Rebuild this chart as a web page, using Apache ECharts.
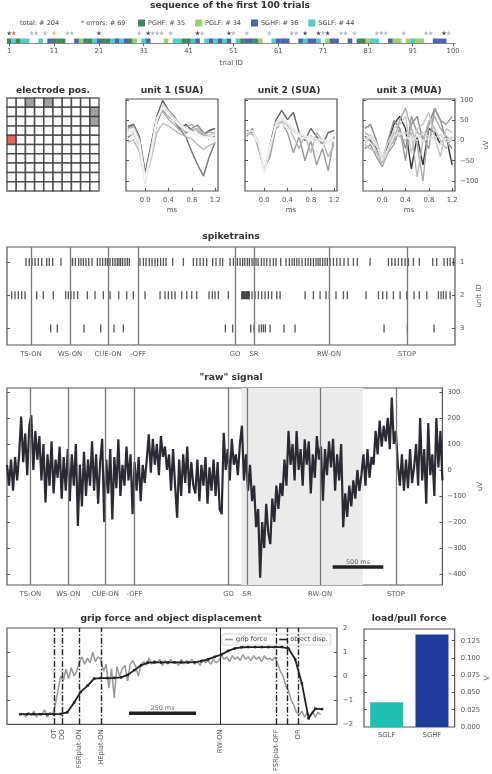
<!DOCTYPE html>
<html>
<head>
<meta charset="utf-8">
<script src="https://cdn.jsdelivr.net/npm/echarts@6.0.0/dist/echarts.min.js"></script>
<style>
html, body { margin: 0; padding: 0; background: #fff; }
#chart { width: 492px; height: 774px; }
</style>
</head>
<body>
<div id="chart"></div>
<script>
const FONT = 'DejaVu Sans'
const TICK = '#555'

// --- trial sequence ---
const trialTicks = [1, 11, 21, 31, 41, 51, 61, 71, 81, 91, 100]
const typeNames = ['PGHF: # 35', 'PGLF: # 34', 'SGHF: # 36', 'SGLF: # 44']
const typeColors = ['#11693a', '#86c447', '#213f99', '#25c0b4']
const trialsPGHF = [1, 3, 11, 12, 13, 18, 19, 22, 23, 28, 40, 41, 53, 56, 79, 80]
const trialsPGLF = [17, 29, 36, 57, 72, 81, 87, 88, 90, 92, 93]
const trialsSGHF = [10, 16, 21, 25, 27, 32, 43, 46, 48, 50, 54, 55, 61, 62, 63, 66, 68, 69, 73, 74, 77, 86, 96, 97, 98]
const trialsSGLF = [2, 4, 5, 8, 20, 24, 26, 31, 38, 39, 42, 45, 47, 49, 52, 60, 67, 70, 82, 83, 91]
const errBlack = [1, 21, 32, 43, 50, 67, 70, 72, 98]
const errGray = [6, 7, 9, 14, 15, 30, 33, 34, 35, 37, 44, 51, 54, 59, 64, 65, 71, 75, 76, 78, 83, 84, 85, 89, 94, 95, 99]
const errRed = [2]
const errOrange = [11]

// --- electrode array ---
const electrodeIds = [0, 1, 2, 3, 4, 5, 6, 7, 8, 9]
const electrodeGray = [[2, 0], [4, 0], [9, 1], [9, 2]]
const electrodeRed = [[0, 4]]

// --- waveforms (ms, uV) ---
const wfTimes = [-0.3, -0.2, -0.1, 0, 0.1, 0.2, 0.3, 0.4, 0.5, 0.6, 0.7, 0.8, 0.9, 1.0, 1.1, 1.2]
const wfTicks = [0, 0.4, 0.8, 1.2]
const uvTicks = [-100, -50, 0, 50, 100]
const unit1Waves = [
  [35, 40, 10, -80, -10, 60, 99, 75, 55, 30, 40, 25, 30, 15, 25, 30],
  [8, 18, -12, -102, -32, 46, 76, 60, 48, 28, 8, -28, -60, -88, -40, -5],
  [30, 38, 5, -88, -15, 42, 86, 74, 60, 38, 18, 30, 38, 20, 2, 12],
  [25, 22, -2, -92, -22, 58, 72, 52, 40, 24, 34, 40, 22, 12, 22, 16],
  [-5, 2, -28, -98, -48, 20, 42, 36, 26, 16, 10, 4, -10, -22, -12, -6],
  [28, 34, 2, -90, -20, 56, 88, 70, 52, 34, 22, 26, 30, 16, 12, 20],
  [12, 18, -18, -108, -40, 48, 92, 72, 55, 42, 30, 22, 15, 8, 10, 6],
  [22, 30, -5, -95, -25, 55, 80, 62, 48, 36, 26, 18, 12, 8, 4, 2],
  [18, 26, -8, -100, -30, 52, 84, 66, 50, 38, 28, 20, 14, 10, 6, 4]
]
const unit2Waves = [
  [25, 20, -10, -75, -10, 50, 75, 52, 70, 20, 0, 30, 10, -10, 20, 25],
  [10, 30, -20, -70, -40, 30, 45, 20, -30, 10, -50, 0, -60, -20, -75, 10],
  [18, 14, -12, -72, -30, 32, 50, 38, 10, -20, 14, -30, 20, 0, -40, -10],
  [15, 18, -8, -70, -15, 38, 48, 35, 22, 18, 8, 12, 2, -4, 0, 4],
  [20, 25, 0, -80, -20, 40, 52, 40, 25, 15, 10, 5, 0, 0, -5, 0],
  [22, 24, -6, -78, -18, 44, 58, 44, 30, 18, 12, 8, 4, 2, 0, 2],
  [5, 10, -5, -62, -10, 35, 42, 30, 20, 10, 5, 0, -5, -10, -5, 0]
]
const unit3Waves = [
  [10, 0, -20, -60, -10, 40, 60, 30, -70, 10, -60, 30, 20, -10, 10, -60],
  [30, 40, 0, -50, 0, 50, 30, -20, 40, 60, 0, 40, 80, 50, 0, -20],
  [-20, -10, -40, -65, -30, -10, 30, -50, 60, 20, 10, -20, 80, 50, 40, 60],
  [20, 10, -10, -60, -20, 0, 50, 80, 30, -10, -100, 40, 60, 30, 10, 0],
  [-10, -20, -30, -55, -30, 20, 10, 0, 20, -90, 0, 50, 30, 0, -20, 10],
  [-5, 5, -25, -62, -25, 30, 40, 60, -30, 30, 40, 70, 10, -40, 30, 20],
  [5, 15, -5, -45, -5, 25, 15, 20, 10, 0, 20, 10, 5, 15, -5, 10],
  [0, 10, -10, -50, -20, 10, 20, 10, 0, 10, 0, 5, 0, -10, 5, 0]
]
const unit1Shades = ['#555', '#777', '#888', '#aaa', '#bbb', '#c8c8c8', '#e2e2e2', '#f0f0f0', '#f7f7f7']
const unit2Shades = ['#666', '#999', '#b5b5b5', '#cfcfcf', '#e0e0e0', '#ececec', '#f4f4f4']
const unit3Shades = ['#333', '#888', '#999', '#aaa', '#bbb', '#c5c5c5', '#d5d5d5', '#e8e8e8']

// --- spike trains (ms) ---
const spikesUnit1 = [182, 214, 240, 269, 301, 333, 381, 406, 438, 518, 611, 630, 656, 688, 710, 733, 758, 784, 816, 867, 893, 918, 944, 963, 989, 1014, 1037, 1059, 1075, 1091, 1110, 1133, 1155, 1174, 1277, 1309, 1334, 1366, 1392, 1421, 1446, 1475, 1501, 1526, 1590, 1693, 1789, 1821, 1853, 1885, 1917, 1974, 2006, 2045, 2070, 2141, 2173, 2211, 2237, 2262, 2282, 2307, 2326, 2352, 2371, 2390, 2410, 2442, 2467, 2493, 2525, 2557, 2582, 2627, 2678, 2710, 2736, 2758, 2781, 2803, 2832, 2864, 2890, 2915, 2941, 2966, 2986, 3005, 3030, 3053, 3075, 3101, 3133, 3165, 3197, 3235, 3274, 3325, 3363, 3485, 3661, 3693, 3725, 3757, 3789, 3821, 3853, 3901, 3958, 4086, 4125, 4195, 4227, 4253, 4285]
const spikesUnit2 = [45, 77, 109, 141, 173, 285, 349, 445, 563, 589, 614, 643, 678, 771, 845, 925, 989, 1072, 1149, 1213, 1325, 1469, 1517, 1549, 1581, 1613, 1677, 1725, 1773, 1821, 1939, 1971, 1997, 2029, 2125, 2253, 2262, 2269, 2277, 2285, 2293, 2301, 2309, 2317, 2326, 2352, 2381, 2413, 2445, 2477, 2509, 2541, 2589, 2621, 2861, 2941, 3005, 3062, 3094, 3158, 3229, 3267, 3446, 3565, 3606, 3645, 3709, 3773, 3837, 3907, 3958, 4029, 4141, 4166, 4189, 4214, 4253]
const spikesUnit3 = [419, 483, 739, 899, 1027, 1117, 2096, 2166, 2339, 2371, 2419, 2442, 2461, 2480, 2525, 2659, 2765, 3619, 3843, 4099]
const eventNames = ['TS-ON', 'WS-ON', 'CUE-ON', '-OFF', 'GO', 'SR', 'RW-ON', 'STOP']
const eventTimes = [230, 605, 970, 1258, 2189, 2371, 3091, 3840]

// --- raw signal (uV, one sample every 20 ms) ---
const rawStep = 20
const rawValues = [
  20, -60, 40, -80, 50, -40, 60,
  205, 30, 140, -20, 170, 210, 0, 150, 40, 130,
  -40, 100, -125, 60, -60, 110, -90, 40, -30, 90, -110, 50,
  -80, 80, -120, 60, -60, 100, -215, 20, -140,
  70, -100, 40, -60, 110, -80, 60, -130, 30, 120, -200, 40, -90, 80, -190, 50, -70, 118, -100, 20, -60, 90,
  -40, 60, -170, 30, -80, 50, -120, 20, -50,
  40, 137, -10, 120, 20, 100, -20, 130, 50, 90, 0,
  60, -80, 80, -60, -183, 40, -100, 60, -50, 90, -90, 30, -60,
  -90, 40, -120, 20, -60, 50, -130, 10, -80, 40, -100, 30, -150,
  -170, 143, 0, 80, -40, 120, 20, 60, -20, 100, 170,
  -40, 60, -80, 20,
  -120, -60, -220, -150,
  -414,
  -200, -300, -130, -240,
  -285, -110, -200, -60, -150, -50,
  -100, 40, -60, 150, 20,
  100, -40, 150, 0, 80, -60, 118, 20, 110, -90, 60, -30, 130, 40, 90, -118, 80, -20, 110, 10, 120, -80, 60, -40, 100,
  -220, -90, -180, -60, -140, -40, -110, 0, -80, -20,
  60, -60, 80, -30, 50, 20,
  150, 60, 190, 90, 170, 110, 200, 80,
  278,
  100, 150,
  20, -60, 60, -80, 40, -70, 80, -50, 10,
  100, -60, 200, -40, 80, -130, 180, -20, 60, -100, 200, 10, 150, -40
]
const rawTicks = [-400, -300, -200, -100, 0, 100, 200, 300]
const rawShade = [2314, 3514]
const rawBar = [3216, 3716]
const rawBarLevel = -373

// --- grip force / object displacement ---
const gripStart = 60
const gripStep = 10
const gripForce = [
  -1.55, -1.7, -1.5, -1.65, -1.45, -1.7, -1.55, -1.6, -1.4, -1.7, -1.5, -1.6,
  -1.2, -0.6, 0.0, -0.2, 0.3, -0.1, 0.35, 0.0, 0.2,
  0.6, 0.8, 0.5, 0.75, 0.55, 1.0, 0.6, 0.8,
  0.7, 0.2, 0.5, -0.5, 0.3, -0.9, 0.4, 0.0, 0.3,
  0.45, -0.2, 0.5, 0.65, 0.4, 0.0, 0.5, 0.6, 0.45, 0.75, 0.5, 0.65, 0.55, 0.7, 0.45, 0.65, 0.5, 0.7, 0.55, 0.6, 0.45, 0.7, 0.5, 0.65, 0.55, 0.7, 0.5, 0.6, 0.45, 0.7, 0.55, 0.65, 0.5, 0.7, 0.55,
  0.65, 0.85, 0.7, 0.8, 0.6, 0.85, 0.7, 0.8, 0.65, 0.9, 0.7, 0.8, 0.65, 0.85, 0.7, 0.8, 0.6, 0.85, 0.7, 0.75, 0.65, 0.8,
  0.5, 0.2, 0.0, -0.4, -0.6, -1.0, -1.2, -1.5, -1.6,
  -1.45, -1.7, -1.5, -1.65, -1.45, -1.7, -1.5, -1.6
]
const dispStart = 50
const dispStep = 25
const objectDisp = [
  -1.58, -1.58, -1.58, -1.58, -1.58, -1.58, -1.57, -1.5, -1.1, -0.65,
  -0.4, -0.1, -0.08, -0.08, -0.07, -0.05, 0.05, 0.25, 0.45, 0.56,
  0.57, 0.57, 0.57, 0.57, 0.57, 0.57, 0.58, 0.62, 0.7, 0.8,
  0.9, 1.05, 1.15, 1.2, 1.21, 1.21, 1.21, 1.21, 1.21, 1.21,
  1.15, 0.7, -0.3, -1.75, -1.35, -1.37
]
const gripTicks = [-2, -1, 0, 1, 2]
const gripEventNames = ['OT', 'DO', 'FSRplat-ON', 'HEplat-ON', 'RW-ON', 'FSRplat-OFF', '', 'OR']
const gripEventTimes = [175, 205, 269, 350, 794, 1003, 1044, 1085]
const gripBar = [455, 705]
const gripBarLevel = -1.54

// --- load / pull force ---
const forceLabels = ['SGLF', 'SGHF']
const forceValues = [0.036, 0.134]
const forceColors = ['#20bfb2', '#1f3c9c']
const forceTicks = [0, 0.025, 0.05, 0.075, 0.1, 0.125]

const STAR = 'path://M50,0 L61,35 L98,35 L68,57 L79,91 L50,70 L21,91 L32,57 L2,35 L39,35 Z'
const minus = v => (v < 0 ? '\u2212' + Math.abs(v) : String(v))
const lbl = { fontFamily: FONT, fontSize: 6.8, color: TICK }

function frame(left, top, width, height) {
  return { left, top, width, height, show: true, borderColor: '#555', borderWidth: 1.2, backgroundColor: 'transparent' }
}

function valAxis(gridIndex, min, max, ticks, o) {
  o = o || {}
  return Object.assign({
    type: 'value', gridIndex, min, max,
    axisLine: { show: false, onZero: false },
    splitLine: { show: false },
    axisTick: { show: !!ticks.length, inside: true, length: 3, customValues: ticks, lineStyle: { color: '#555' } },
    axisLabel: { show: false }
  }, o)
}

function labels(ticks, fmt, margin) {
  return Object.assign({ show: true, customValues: ticks, formatter: fmt, margin: margin || 4 }, lbl)
}

function title(text, x, y) {
  return {
    type: 'text', x, y,
    style: { text, textAlign: 'center', textVerticalAlign: 'middle', align: 'center', verticalAlign: 'middle', font: 'bold 9.2px "DejaVu Sans"', fill: '#333' }
  }
}

function plain(text, x, y) {
  return {
    type: 'text', x, y,
    style: { text, textVerticalAlign: 'middle', verticalAlign: 'middle', font: '6.5px "DejaVu Sans"', fill: '#444' }
  }
}

function waveSeries(waves, shades, idx) {
  return waves.map((w, k) => ({
    type: 'line', xAxisIndex: idx, yAxisIndex: idx, silent: true,
    data: w.map((v, i) => [wfTimes[i], v]),
    showSymbol: false,
    lineStyle: { color: shades[k], width: 1.4 }
  }))
}

function trialSeries(name, ids, color) {
  return {
    name, type: 'scatter', xAxisIndex: 0, yAxisIndex: 0, silent: true,
    data: ids.map(n => [n, 0.17]),
    symbol: 'rect', symbolSize: [4.6, 4.6],
    itemStyle: { color }
  }
}

function starSeries(ids, color) {
  return {
    type: 'scatter', xAxisIndex: 0, yAxisIndex: 0, silent: true,
    data: ids.map(n => [n, 0.77]),
    symbol: STAR, symbolSize: 5,
    itemStyle: { color }
  }
}

function spikeSeries(times, unit) {
  return {
    type: 'scatter', xAxisIndex: 5, yAxisIndex: 6, silent: true,
    data: times.map(t => [t, unit]),
    symbol: 'rect', symbolSize: [1.3, 8],
    itemStyle: { color: '#2b2b2b' }
  }
}

const eventLines = eventTimes.map(t => ({ xAxis: t }))
const electrodeCells = []
electrodeIds.forEach(r => electrodeIds.forEach(c => {
  let color = '#fff'
  if (electrodeGray.some(p => p[0] === c && p[1] === r)) color = '#8a8a8a'
  if (electrodeRed.some(p => p[0] === c && p[1] === r)) color = '#e8392c'
  electrodeCells.push({ value: [c + 0.5, r + 0.5], itemStyle: { color } })
}))

const chart = echarts.init(document.getElementById('chart'))

const option = {
  animation: false,
  textStyle: { fontFamily: FONT },
  legend: [
    {
      data: typeNames, left: 138, top: 19.5, padding: 0,
      itemWidth: 7, itemHeight: 7, itemGap: 10, icon: 'rect', selectedMode: false,
      textStyle: { fontFamily: FONT, fontSize: 6.5, color: '#444', padding: [0, 0, 0, -2] }
    },
    {
      data: [{ name: 'grip force', icon: 'rect' }, { name: 'object disp.', icon: 'rect' }],
      left: 222, top: 634, padding: [2, 3, 2, 3], selectedMode: false,
      itemWidth: 8, itemHeight: 1.6, itemGap: 12,
      backgroundColor: '#fff', borderColor: '#ccc', borderWidth: 0.8, borderRadius: 2,
      textStyle: { fontFamily: FONT, fontSize: 6.5, color: '#444', padding: [0, 0, 0, -2] }
    }
  ],
  graphic: [
    title('sequence of the first 100 trials', 230, 6),
    title('electrode pos.', 53, 91),
    title('unit 1 (SUA)', 172, 91),
    title('unit 2 (SUA)', 289, 91),
    title('unit 3 (MUA)', 409, 91),
    title('spiketrains', 231, 237),
    title('"raw" signal', 231, 378),
    title('grip force and object displacement', 171, 619),
    title('load/pull force', 409, 619),
    plain('total: # 204', 20, 23),
    plain('* errors: # 69', 81, 23)
  ],
  grid: [
    { left: 7, top: 30, width: 448.3, height: 13 },
    { left: 7, top: 98, width: 92, height: 93 },
    frame(126, 99, 92, 92),
    frame(245, 99, 92, 92),
    frame(363, 99, 92, 92),
    frame(7, 247, 448, 98),
    frame(7, 388, 448, 197),
    frame(7, 628, 330, 99),
    frame(364, 629, 91, 98)
  ],
  xAxis: [
    {
      type: 'value', gridIndex: 0, min: 0.5, max: 100.5,
      axisLine: { onZero: false, lineStyle: { color: '#888', width: 1.2 } },
      axisTick: { customValues: trialTicks, length: 3, lineStyle: { color: '#666' } },
      axisLabel: labels(trialTicks, String, 5),
      splitLine: { show: false },
      name: 'trial ID', nameLocation: 'middle', nameGap: 17,
      nameTextStyle: { fontFamily: FONT, fontSize: 7, color: TICK }
    },
    { type: 'value', gridIndex: 1, min: 0, max: 10, show: false },
    valAxis(2, -0.33, 1.25, wfTicks, { axisLabel: labels(wfTicks, v => v.toFixed(1), 6), name: 'ms', nameLocation: 'middle', nameGap: 16, nameTextStyle: { fontFamily: FONT, fontSize: 7, color: TICK } }),
    valAxis(3, -0.33, 1.25, wfTicks, { axisLabel: labels(wfTicks, v => v.toFixed(1), 6), name: 'ms', nameLocation: 'middle', nameGap: 16, nameTextStyle: { fontFamily: FONT, fontSize: 7, color: TICK } }),
    valAxis(4, -0.33, 1.25, wfTicks, { axisLabel: labels(wfTicks, v => v.toFixed(1), 6), name: 'ms', nameLocation: 'middle', nameGap: 16, nameTextStyle: { fontFamily: FONT, fontSize: 7, color: TICK } }),
    valAxis(5, 0, 4300, [], { axisLabel: labels(eventTimes, v => eventNames[eventTimes.indexOf(v)], 6) }),
    valAxis(6, 0, 4300, [], { axisLabel: labels(eventTimes, v => eventNames[eventTimes.indexOf(v)], 6) }),
    valAxis(7, 0, 1231, [], { axisLabel: Object.assign(labels(gripEventTimes, v => gripEventNames[gripEventTimes.indexOf(v)], 5), { rotate: 90 }) }),
    {
      type: 'category', gridIndex: 8, data: forceLabels,
      axisLine: { show: false, onZero: false }, axisTick: { show: false },
      axisLabel: Object.assign({ margin: 5 }, lbl)
    }
  ],
  yAxis: [
    { type: 'value', gridIndex: 0, min: 0, max: 1, show: false },
    { type: 'value', gridIndex: 1, min: 0, max: 10, inverse: true, show: false },
    valAxis(2, -125, 103, uvTicks),
    valAxis(3, -125, 103, uvTicks),
    valAxis(4, -125, 103, uvTicks),
    valAxis(4, -125, 103, uvTicks, {
      position: 'right', axisLabel: labels(uvTicks, minus, 5),
      name: 'uV', nameLocation: 'middle', nameRotate: 90, nameGap: 27,
      nameTextStyle: { fontFamily: FONT, fontSize: 7, color: TICK }
    }),
    valAxis(5, 0.55, 3.5, [1, 2, 3], { inverse: true }),
    valAxis(5, 0.55, 3.5, [1, 2, 3], {
      inverse: true, position: 'right', axisLabel: labels([1, 2, 3], String, 5),
      name: 'unit ID', nameLocation: 'middle', nameRotate: 90, nameGap: 14,
      nameTextStyle: { fontFamily: FONT, fontSize: 7, color: TICK }
    }),
    valAxis(6, -442, 315, rawTicks),
    valAxis(6, -442, 315, rawTicks, {
      position: 'right', axisLabel: labels(rawTicks, minus, 5),
      name: 'uV', nameLocation: 'middle', nameRotate: 90, nameGap: 26,
      nameTextStyle: { fontFamily: FONT, fontSize: 7, color: TICK }
    }),
    valAxis(7, -2, 2, [-1, 0, 1]),
    valAxis(7, -2, 2, [-1, 0, 1], { position: 'right', axisLabel: labels(gripTicks, minus, 6) }),
    valAxis(8, 0, 0.142, [0.025, 0.05, 0.075, 0.1, 0.125]),
    valAxis(8, 0, 0.142, [0.025, 0.05, 0.075, 0.1, 0.125], {
      position: 'right', axisLabel: labels(forceTicks, v => v.toFixed(3), 6),
      name: 'V', nameLocation: 'middle', nameRotate: 90, nameGap: 27,
      nameTextStyle: { fontFamily: FONT, fontSize: 7, color: TICK }
    })
  ],
  series: [
    trialSeries(typeNames[0], trialsPGHF, typeColors[0]),
    trialSeries(typeNames[1], trialsPGLF, typeColors[1]),
    trialSeries(typeNames[2], trialsSGHF, typeColors[2]),
    trialSeries(typeNames[3], trialsSGLF, typeColors[3]),
    starSeries(errGray, '#9aa0ad'),
    starSeries(errBlack, '#222'),
    starSeries(errRed, '#e8392c'),
    starSeries(errOrange, '#f0a030'),
    {
      type: 'scatter', xAxisIndex: 1, yAxisIndex: 1, silent: true,
      data: electrodeCells, symbol: 'rect', symbolSize: [9.2, 9.3],
      itemStyle: { borderColor: '#3c3c3c', borderWidth: 1.5 }
    },
    ...waveSeries(unit1Waves, unit1Shades, 2),
    ...waveSeries(unit2Waves, unit2Shades, 3),
    ...waveSeries(unit3Waves, unit3Shades, 4),
    Object.assign(spikeSeries(spikesUnit1, 1), {
      markLine: { silent: true, symbol: ['none', 'none'], label: { show: false }, lineStyle: { color: '#777', width: 1.3, type: 'solid' }, data: eventLines }
    }),
    spikeSeries(spikesUnit2, 2),
    spikeSeries(spikesUnit3, 3),
    {
      type: 'line', xAxisIndex: 6, yAxisIndex: 8, silent: true, data: [[0, 0]],
      showSymbol: false, lineStyle: { opacity: 0 },
      markArea: { silent: true, itemStyle: { color: '#ebebeb' }, data: [[{ xAxis: rawShade[0] }, { xAxis: rawShade[1] }]] },
      markLine: { silent: true, symbol: ['none', 'none'], label: { show: false }, lineStyle: { color: '#777', width: 1.3, type: 'solid' }, data: eventLines }
    },
    {
      type: 'line', xAxisIndex: 6, yAxisIndex: 8, silent: true,
      data: rawValues.map((v, i) => [i * rawStep, v]),
      showSymbol: false, lineStyle: { color: '#2a2a33', width: 2.2 }
    },
    {
      type: 'line', xAxisIndex: 6, yAxisIndex: 8, silent: true,
      data: rawBar.map(t => [t, rawBarLevel]),
      showSymbol: false, lineStyle: { color: '#222', width: 3.5 }
    },
    {
      type: 'scatter', xAxisIndex: 6, yAxisIndex: 8, silent: true,
      data: [[(rawBar[0] + rawBar[1]) / 2, rawBarLevel]], symbolSize: 0,
      label: { show: true, position: 'top', distance: 1, formatter: '500 ms', fontFamily: FONT, fontSize: 6.5, color: '#444' }
    },
    {
      name: 'grip force', type: 'line', xAxisIndex: 7, yAxisIndex: 11, silent: true,
      data: gripForce.map((v, i) => [gripStart + i * gripStep, v]),
      showSymbol: false, itemStyle: { color: '#999' }, lineStyle: { color: '#999', width: 1.5 }
    },
    {
      type: 'line', xAxisIndex: 7, yAxisIndex: 11, silent: true, data: [[0, 0]],
      showSymbol: false, lineStyle: { opacity: 0 },
      markLine: {
        silent: true, symbol: ['none', 'none'], label: { show: false },
        lineStyle: { color: '#222', width: 1.4, type: [6, 2, 1.5, 2] },
        data: gripEventTimes.map((t, i) => gripEventNames[i] === 'RW-ON'
          ? { xAxis: t, lineStyle: { type: 'solid', width: 1 } }
          : { xAxis: t })
      }
    },
    {
      name: 'object disp.', type: 'line', xAxisIndex: 7, yAxisIndex: 11, silent: true,
      data: objectDisp.map((v, i) => [dispStart + i * dispStep, v]),
      symbol: 'rect', symbolSize: 2.5, showSymbol: true,
      itemStyle: { color: '#222' }, lineStyle: { color: '#222', width: 1.8 }
    },
    {
      type: 'line', xAxisIndex: 7, yAxisIndex: 11, silent: true,
      data: gripBar.map(t => [t, gripBarLevel]),
      showSymbol: false, lineStyle: { color: '#222', width: 3.5 }
    },
    {
      type: 'scatter', xAxisIndex: 7, yAxisIndex: 11, silent: true,
      data: [[(gripBar[0] + gripBar[1]) / 2, gripBarLevel]], symbolSize: 0,
      label: { show: true, position: 'top', distance: 1, formatter: '250 ms', fontFamily: FONT, fontSize: 6.5, color: '#444' }
    },
    {
      type: 'bar', xAxisIndex: 8, yAxisIndex: 12, silent: true, barWidth: 33,
      data: forceValues.map((v, i) => ({ value: v, itemStyle: { color: forceColors[i] } }))
    }
  ]
}

chart.setOption(option)
</script>
</body>
</html>
